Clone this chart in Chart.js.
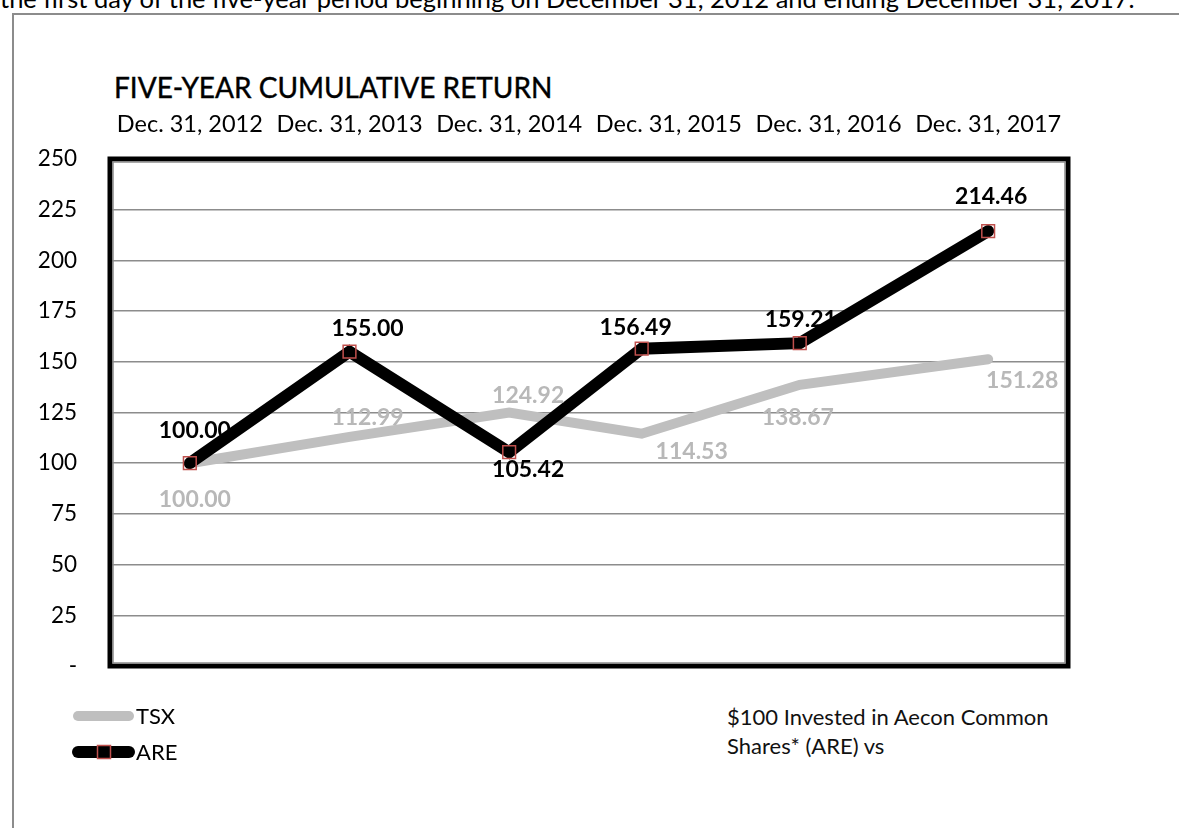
<!DOCTYPE html>
<html>
<head>
<meta charset="utf-8">
<script src="https://cdn.jsdelivr.net/npm/chart.js@4/dist/chart.umd.min.js"></script>
<style>
    body { margin: 0; background: #fff; font-family: Lato, sans-serif; overflow: hidden; }
    .intro { position: absolute; left: 0; top: -16px; font-size: 25.5px; line-height: 28px; white-space: nowrap; color: #000; }
    .frame { position: absolute; left: 12px; top: 13px; width: 1300px; height: 900px;
             border-left: 2px solid #8c8c8c; border-top: 2px solid #8c8c8c; }
    .title { position: absolute; left: 114px; top: 70px; font-size: 28px; color: #000; white-space: nowrap; -webkit-text-stroke: 0.4px #000; }
    .note { position: absolute; left: 727px; top: 702px; font-size: 22px; line-height: 29px; color: #111; }
    #chart-wrap { position: absolute; left: 0; top: 0; width: 1179px; height: 828px; }
</style>
</head>
<body>
<div class="intro">the first day of the five-year period beginning on December 31, 2012 and ending December 31, 2017.</div>
<div class="frame"></div>
<div class="title">FIVE-YEAR CUMULATIVE RETURN</div>
<div class="note">$100 Invested in Aecon Common<br>Shares* (ARE) vs</div>
<div id="chart-wrap"><canvas id="returns" width="1179" height="828"></canvas></div>

<script>
// Chart data
const dates = ['Dec. 31, 2012', 'Dec. 31, 2013', 'Dec. 31, 2014', 'Dec. 31, 2015', 'Dec. 31, 2016', 'Dec. 31, 2017'];
// where each point sits along the x axis (in period units)
const periodPos = [0, 1, 2, 2.83, 3.82, 5];
const areValues = [100.00, 155.00, 105.42, 156.49, 159.21, 214.46];
const tsxValues = [100.00, 112.99, 124.92, 114.53, 138.67, 151.28];
const yTicks = [0, 25, 50, 75, 100, 125, 150, 175, 200, 225, 250];

// label placement relative to each point (styling only)
const areLabelOffsets = [[5, -33], [18, -23], [19, 17], [-6, -21], [1, -24], [3, -34]];
const tsxLabelOffsets = [[5, 36], [18, -19], [19, -17], [50, 18], [-2, 33], [34, 21]];

const FONT = 'Lato, "Open Sans", sans-serif';

document.addEventListener('DOMContentLoaded', function() {

    // thick black plot border with a thin grey inner line
    const plotFrame = {
        id: 'plotFrame',
        beforeDatasetsDraw(chart) {
            const a = chart.chartArea;
            const ctx = chart.ctx;
            ctx.save();
            ctx.strokeStyle = '#000';
            ctx.lineWidth = 5;
            ctx.strokeRect(a.left, a.top, a.right - a.left, a.bottom - a.top);
            ctx.strokeStyle = '#8c8c8c';
            ctx.lineWidth = 1.5;
            ctx.strokeRect(a.left + 3, a.top + 3, a.right - a.left - 6, a.bottom - a.top - 6);
            ctx.restore();
        }
    };

    // value labels next to each point
    const valueLabels = {
        id: 'valueLabels',
        afterDatasetsDraw(chart) {
            const ctx = chart.ctx;
            ctx.save();
            ctx.font = 'bold 23px ' + FONT;
            ctx.textAlign = 'center';
            ctx.textBaseline = 'middle';
            chart.data.datasets.forEach(function(ds, di) {
                const meta = chart.getDatasetMeta(di);
                ctx.fillStyle = ds.labelColor;
                meta.data.forEach(function(pt, i) {
                    const off = ds.labelOffsets[i];
                    ctx.fillText(ds.data[i].y.toFixed(2), pt.x + off[0], pt.y + off[1]);
                });
            });
            ctx.restore();
        }
    };

    // legend at bottom-left, drawn from dataset styles
    const customLegend = {
        id: 'customLegend',
        afterDraw(chart) {
            const ctx = chart.ctx;
            const rows = [chart.data.datasets[1], chart.data.datasets[0]];
            ctx.save();
            rows.forEach(function(ds, i) {
                const y = 716 + i * 36;
                ctx.strokeStyle = ds.borderColor;
                ctx.lineWidth = ds.borderWidth;
                ctx.lineCap = 'round';
                ctx.beginPath();
                ctx.moveTo(78, y);
                ctx.lineTo(129, y);
                ctx.stroke();
                if (ds.pointRadius > 0) {
                    ctx.strokeStyle = ds.pointBorderColor;
                    ctx.lineWidth = ds.pointBorderWidth;
                    ctx.strokeRect(97.5, y - 6.5, 13, 13);
                }
                ctx.fillStyle = '#000';
                ctx.font = '22px ' + FONT;
                ctx.textBaseline = 'middle';
                ctx.fillText(ds.label, 136, y + 1);
            });
            ctx.restore();
        }
    };

    function toPoints(values) {
        return values.map((v, i) => ({ x: periodPos[i], y: v }));
    }

    new Chart(document.getElementById('returns'), {
        type: 'line',
        data: {
            datasets: [{
                label: 'ARE',
                data: toPoints(areValues),
                borderColor: '#000',
                borderWidth: 12,
                borderCapStyle: 'round',
                pointStyle: 'rect',
                pointRadius: 9,
                pointBorderColor: '#c0504d',
                pointBackgroundColor: 'rgba(0,0,0,0)',
                pointBorderWidth: 1.5,
                tension: 0,
                order: 1,
                labelColor: '#000',
                labelOffsets: areLabelOffsets
            }, {
                label: 'TSX',
                data: toPoints(tsxValues),
                borderColor: '#bfbfbf',
                borderWidth: 10,
                borderCapStyle: 'round',
                pointRadius: 0,
                tension: 0,
                order: 2,
                labelColor: '#b8b8b8',
                labelOffsets: tsxLabelOffsets
            }]
        },
        options: {
            responsive: false,
            animation: false,
            devicePixelRatio: 1,
            layout: {
                padding: { left: 20, right: 111, top: 100, bottom: 162 }
            },
            plugins: {
                legend: { display: false },
                tooltip: { enabled: false }
            },
            scales: {
                x: {
                    type: 'linear',
                    position: 'top',
                    min: -0.5,
                    max: 5.5,
                    afterBuildTicks(axis) { axis.ticks = dates.map((d, i) => ({ value: i })); },
                    grid: { display: false, drawTicks: false },
                    border: { display: false },
                    ticks: {
                        padding: 20,
                        color: '#000',
                        maxRotation: 0,
                        autoSkip: false,
                        font: { family: FONT, size: 23.5 },
                        callback: v => dates[v]
                    },
                    afterFit(axis) { axis.height = 59; }
                },
                y: {
                    min: 0,
                    max: 250,
                    afterBuildTicks(axis) { axis.ticks = yTicks.map(v => ({ value: v })); },
                    grid: {
                        color: '#8c8c8c',
                        lineWidth: 1.5,
                        drawTicks: false
                    },
                    border: { display: false },
                    ticks: {
                        padding: 33,
                        color: '#000',
                        font: { family: FONT, size: 22.5 },
                        callback: v => v === 0 ? '-' : v
                    },
                    afterFit(axis) { axis.width = 90; }
                }
            }
        },
        plugins: [plotFrame, valueLabels, customLegend]
    });
});
</script>
</body>
</html>
